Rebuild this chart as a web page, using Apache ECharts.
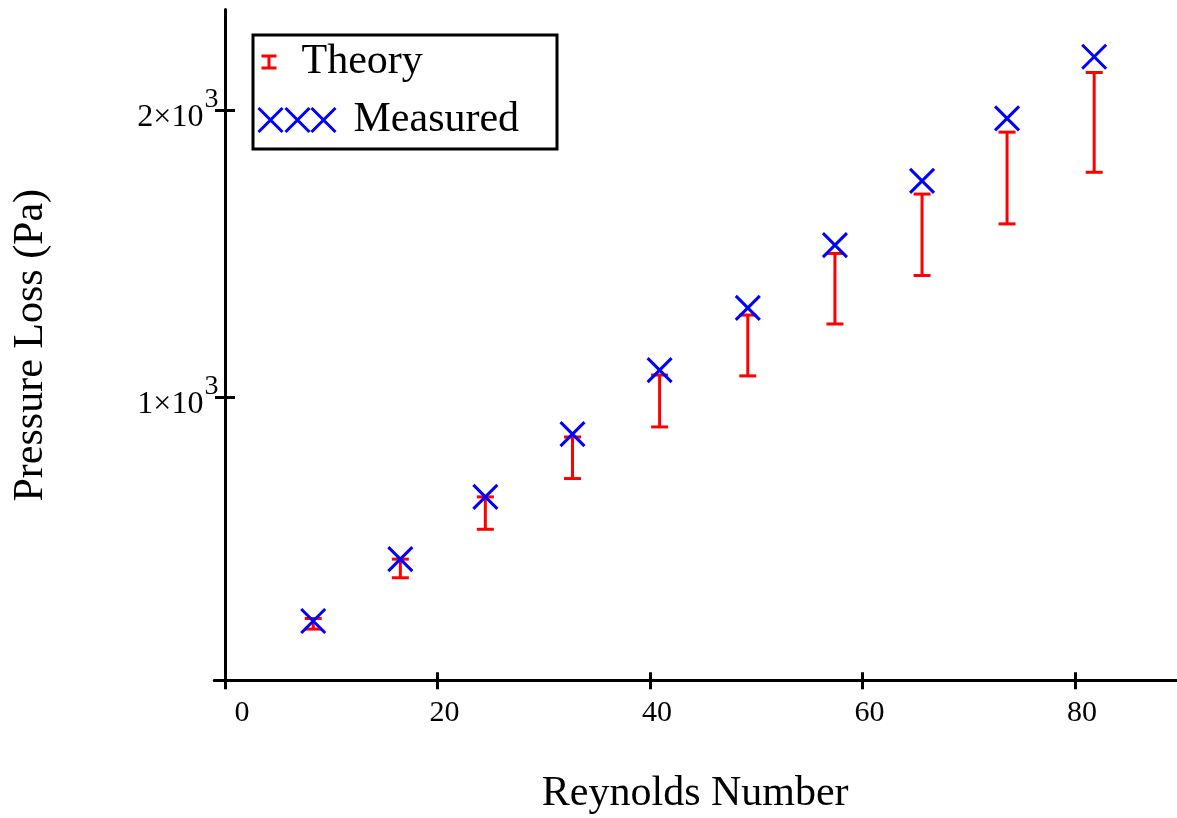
<!DOCTYPE html>
<html>
<head>
<meta charset="utf-8">
<script src="https://cdn.jsdelivr.net/npm/echarts@6/dist/echarts.min.js"></script>
<style>
html,body{margin:0;padding:0;background:#fff;}
#chart{width:1177px;height:818px;}
</style>
</head>
<body>
<div id="chart"></div>
<script>
// ---- data ----
const reynolds = [8.3, 16.5, 24.5, 32.7, 40.9, 49.2, 57.4, 65.6, 73.6, 81.8];
const measured = [218, 434, 651, 870, 1093, 1310, 1529, 1753, 1971, 2186];
const theoryHigh = [227, 434, 651, 860, 1076, 1285, 1500, 1707, 1923, 2131];
const theoryLow = [190, 369, 538, 715, 895, 1073, 1254, 1423, 1603, 1783];
const xTicks = [0, 20, 40, 60, 80];
const yTicks = [1000, 2000];
const seriesNames = ['Theory', 'Measured'];
const xTitle = 'Reynolds Number';
const yTitle = 'Pressure Loss (Pa)';

const FONT = '"Liberation Serif", "DejaVu Serif", serif';
const chart = echarts.init(document.getElementById('chart'), null, {renderer: 'canvas'});

const theoryData = reynolds.map((x, i) => [x, theoryLow[i], theoryHigh[i]]);
const measuredData = reynolds.map((x, i) => [x, measured[i]]);

const xRange = {min: -1, max: 89.5};
const yRange = {min: 10, max: 2350};

function xAxisBase(inside) {
  return {
    type: 'value', position: 'bottom', min: xRange.min, max: xRange.max,
    axisLine: {show: true, onZero: false, lineStyle: {color: '#000', width: 3}},
    axisTick: {show: true, inside: inside, length: 8.5, customValues: xTicks, lineStyle: {color: '#000', width: 3}},
    splitLine: {show: false},
    axisLabel: inside ? {show: false} : {
      show: true, customValues: xTicks, margin: 17,
      fontFamily: FONT, fontSize: 30, color: '#000',
      formatter: v => (v === 0 ? '{z|0}' : '{n|' + v + '}'),
      rich: {
        z: {fontFamily: FONT, fontSize: 30, color: '#000', padding: [0, 0, 0, 34]},
        n: {fontFamily: FONT, fontSize: 30, color: '#000', padding: [0, 0, 0, 14]}
      }
    }
  };
}
function yAxisBase(inside) {
  return {
    type: 'value', position: 'left', min: yRange.min, max: yRange.max,
    axisLine: {show: true, onZero: true, lineStyle: {color: '#000', width: 3}},
    axisTick: {show: true, inside: inside, length: 10, customValues: yTicks, lineStyle: {color: '#000', width: 3}},
    splitLine: {show: false},
    axisLabel: inside ? {show: false} : {
      show: true, customValues: yTicks, margin: -4,
      formatter: v => '{b|' + (v / 1000) + '×10}{s|3}',
      rich: {
        b: {fontFamily: FONT, fontSize: 32, color: '#000', lineHeight: 32, padding: [15, 0, 0, 0]},
        s: {fontFamily: FONT, fontSize: 28, color: '#000', lineHeight: 28, padding: [0, 0, 21, 1]}
      }
    }
  };
}

const xA0 = xAxisBase(false);
xA0.name = xTitle;
xA0.nameLocation = 'middle';
xA0.nameGap = 92;
xA0.nameTextStyle = {fontFamily: FONT, fontSize: 42, color: '#000'};
const yA0 = yAxisBase(false);
yA0.name = yTitle;
yA0.nameLocation = 'middle';
yA0.nameGap = 162;
yA0.nameTextStyle = {fontFamily: FONT, fontSize: 42, color: '#000'};

const theoryIcon = 'path://M0,0M40,14M5,1L20,1M12.5,1L12.5,13M5,13L20,13';
const measuredIcon = 'path://M0,0M92,24M2,0L26,24M2,24L26,0M29,0L53,24M29,24L53,0M55,0L79,24M55,24L79,0';

const option = {
  animation: false,
  backgroundColor: '#fff',
  grid: {left: 214.4, right: 1, top: 9.7, bottom: 137.3, containLabel: false, outerBoundsMode: 'none'},
  xAxis: [xA0, xAxisBase(true)],
  yAxis: [yA0, yAxisBase(true)],
  legend: [
    {
      left: 255, top: 41, padding: 0, orient: 'vertical',
      itemWidth: 40, itemHeight: 14,
      textStyle: {fontFamily: FONT, fontSize: 42, color: '#000', lineHeight: 42},
      data: [{name: seriesNames[0], icon: theoryIcon,
        itemStyle: {color: 'rgba(0,0,0,0)', borderColor: '#ff0000', borderWidth: 3, opacity: 1}}]
    },
    {
      left: 255, top: 99, padding: 0, orient: 'vertical',
      itemWidth: 92, itemHeight: 24,
      textStyle: {fontFamily: FONT, fontSize: 42, color: '#000', lineHeight: 42},
      data: [{name: seriesNames[1], icon: measuredIcon,
        itemStyle: {color: 'rgba(0,0,0,0)', borderColor: '#0000ff', borderWidth: 3, opacity: 1}}]
    }
  ],
  graphic: [
    {type: 'rect', left: 250.5, top: 32.5, shape: {x: 0, y: 0, width: 304, height: 114},
     style: {fill: 'none', stroke: '#000', lineWidth: 3}, z: 10}
  ],
  series: [
    {
      name: seriesNames[0], type: 'custom', xAxisIndex: 0, yAxisIndex: 0,
      data: theoryData, encode: {x: 0, y: [1, 2]},
      itemStyle: {color: '#ff0000'},
      renderItem: function (params, api) {
        const x = api.value(0), lo = api.value(1), hi = api.value(2);
        const pLo = api.coord([x, lo]);
        const pHi = api.coord([x, hi]);
        const hw = 8.5;
        const st = {stroke: '#ff0000', lineWidth: 3, fill: null};
        return {
          type: 'group',
          children: [
            {type: 'line', shape: {x1: pLo[0], y1: pLo[1], x2: pHi[0], y2: pHi[1]}, style: st},
            {type: 'line', shape: {x1: pLo[0] - hw, y1: pLo[1], x2: pLo[0] + hw, y2: pLo[1]}, style: st},
            {type: 'line', shape: {x1: pHi[0] - hw, y1: pHi[1], x2: pHi[0] + hw, y2: pHi[1]}, style: st}
          ]
        };
      },
      z: 2
    },
    {
      name: seriesNames[1], type: 'scatter', xAxisIndex: 0, yAxisIndex: 0,
      data: measuredData,
      symbol: 'path://M0,0L24,24M0,24L24,0',
      symbolSize: 24,
      itemStyle: {color: 'rgba(0,0,0,0)', borderColor: '#0000ff', borderWidth: 3, opacity: 1},
      emphasis: {disabled: true},
      z: 3
    }
  ]
};
chart.setOption(option);
</script>
</body>
</html>
